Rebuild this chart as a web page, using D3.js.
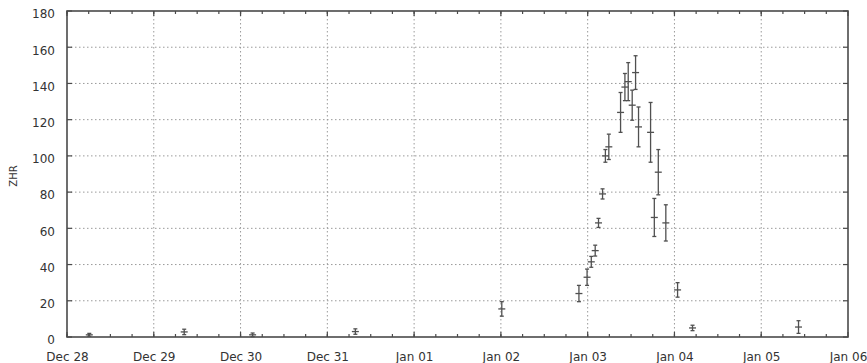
<!DOCTYPE html>
<html>
<head>
<meta charset="utf-8">
<script src="https://cdn.jsdelivr.net/npm/d3@7"></script>
<style>
  body { margin: 0; background: #fff; }
  svg { display: block; font-family: "DejaVu Sans", Verdana, sans-serif; }
</style>
</head>
<body>
<svg id="chart" width="867" height="363"></svg>
<script>
// ---- data ----
const times = [
  "2008-12-28T06:10", "2008-12-29T08:25", "2008-12-30T03:20", "2008-12-31T07:45",
  "2009-01-02T00:15", "2009-01-02T21:35", "2009-01-02T23:50", "2009-01-03T01:00",
  "2009-01-03T02:05", "2009-01-03T03:00", "2009-01-03T04:07", "2009-01-03T04:54",
  "2009-01-03T05:51", "2009-01-03T09:06", "2009-01-03T10:18", "2009-01-03T11:13",
  "2009-01-03T12:19", "2009-01-03T13:15", "2009-01-03T14:04", "2009-01-03T17:24",
  "2009-01-03T18:26", "2009-01-03T19:32", "2009-01-03T21:37", "2009-01-04T00:52",
  "2009-01-04T05:00", "2009-01-05T10:19"
];
const zhr = [
  1.2, 2.8, 1.2, 3.0,
  15.5, 24, 33, 41.5,
  47.7, 63, 79, 100,
  105, 124, 138, 141,
  128, 146, 116, 113,
  66, 91, 63, 26,
  5, 5.5
];
const zhrErr = [
  0.8, 1.5, 1.0, 1.5,
  4, 4.5, 4.5, 3,
  3, 2.5, 2.8, 3.5,
  7, 11, 7.5, 10.5,
  8.3, 9.3, 11, 16.5,
  10.5, 12.5, 10, 4,
  1.5, 3.5
];
const yTicks = [0, 20, 40, 60, 80, 100, 120, 140, 160, 180];
const xStart = "2008-12-28T00:00", xEnd = "2009-01-06T00:00";
const yLabel = "ZHR";

// ---- layout ----
const L = 67, R = 848, T = 11, B = 337;
const parse = d3.utcParse("%Y-%m-%dT%H:%M");
const svg = d3.select("#chart");

const x = d3.scaleUtc().domain([parse(xStart), parse(xEnd)]).range([L, R]);
const y = d3.scaleLinear().domain([0, 180]).range([B, T]);

const frameColor = "#4a4a4a";
const gridColor = "#9a9a9a";

const days = d3.utcDay.range(parse(xStart), d3.utcDay.offset(parse(xEnd), 1));
const quarters = d3.utcHour.every(6).range(parse(xStart), parse(xEnd));

// grid
const grid = svg.append("g");
grid.selectAll("line.vg").data(days.slice(1, -1)).join("line")
  .attr("x1", d => x(d)).attr("x2", d => x(d)).attr("y1", T).attr("y2", B)
  .attr("stroke", gridColor).attr("stroke-width", 1).attr("stroke-dasharray", "1.5,2.5");
grid.selectAll("line.hg").data(yTicks.slice(1, -1)).join("line")
  .attr("x1", L).attr("x2", R).attr("y1", d => y(d)).attr("y2", d => y(d))
  .attr("stroke", gridColor).attr("stroke-width", 1).attr("stroke-dasharray", "1.5,2.5");

// minor ticks (6h) on bottom and top
const ticks = svg.append("g").attr("stroke", frameColor).attr("stroke-width", 1.2);
ticks.selectAll("line.mb").data(quarters).join("line")
  .attr("x1", d => x(d)).attr("x2", d => x(d)).attr("y1", B).attr("y2", B - 3);
ticks.selectAll("line.mt").data(quarters).join("line")
  .attr("x1", d => x(d)).attr("x2", d => x(d)).attr("y1", T).attr("y2", T + 3);
// major x ticks
ticks.selectAll("line.Mb").data(days).join("line")
  .attr("x1", d => x(d)).attr("x2", d => x(d)).attr("y1", B).attr("y2", B - 5);
ticks.selectAll("line.Mt").data(days).join("line")
  .attr("x1", d => x(d)).attr("x2", d => x(d)).attr("y1", T).attr("y2", T + 5);
// y ticks left and right
ticks.selectAll("line.yl").data(yTicks).join("line")
  .attr("x1", L).attr("x2", L + 5).attr("y1", d => y(d)).attr("y2", d => y(d));
ticks.selectAll("line.yr").data(yTicks).join("line")
  .attr("x1", R).attr("x2", R - 5).attr("y1", d => y(d)).attr("y2", d => y(d));

// frame
svg.append("rect").attr("x", L).attr("y", T).attr("width", R - L).attr("height", B - T)
  .attr("fill", "none").attr("stroke", frameColor).attr("stroke-width", 1.6);

// axes labels via d3 axes (lines hidden, labels used)
const fmt = d3.utcFormat("%b %d");
const xAxis = svg.append("g").attr("transform", `translate(0,${B})`)
  .call(d3.axisBottom(x).tickValues(days).tickFormat(fmt).tickSize(0).tickPadding(0));
xAxis.select(".domain").remove();
xAxis.selectAll("text").attr("y", 24).attr("dy", null)
  .attr("font-size", 12).attr("fill", "#333").attr("font-family", "DejaVu Sans, sans-serif");

const yAxis = svg.append("g").attr("transform", `translate(${L},0)`)
  .call(d3.axisLeft(y).tickValues(yTicks).tickSize(0).tickPadding(12));
yAxis.select(".domain").remove();
yAxis.selectAll("text").attr("dy", "0.32em").attr("transform", "translate(0,3)")
  .attr("font-size", 12).attr("fill", "#333").attr("font-family", "DejaVu Sans, sans-serif");

svg.append("text")
  .attr("transform", `translate(17,${(T + B) / 2 + 2}) rotate(-90)`)
  .attr("text-anchor", "middle").attr("font-size", 10).attr("fill", "#333")
  .text(yLabel);

// error bars
const pts = times.map((t, i) => ({ t: parse(t), v: zhr[i], e: zhrErr[i] }));
const barColor = "#505050";
const g = svg.append("g").attr("stroke", barColor).attr("stroke-width", 1.3).attr("fill", "none");
const pg = g.selectAll("g").data(pts).join("g");
pg.append("line")
  .attr("x1", d => x(d.t)).attr("x2", d => x(d.t))
  .attr("y1", d => y(d.v - d.e)).attr("y2", d => y(d.v + d.e));
pg.append("line")
  .attr("x1", d => x(d.t) - 2).attr("x2", d => x(d.t) + 2)
  .attr("y1", d => y(d.v - d.e)).attr("y2", d => y(d.v - d.e));
pg.append("line")
  .attr("x1", d => x(d.t) - 2).attr("x2", d => x(d.t) + 2)
  .attr("y1", d => y(d.v + d.e)).attr("y2", d => y(d.v + d.e));
pg.append("line")
  .attr("x1", d => x(d.t) - 3.5).attr("x2", d => x(d.t) + 3.5)
  .attr("y1", d => y(d.v)).attr("y2", d => y(d.v));
</script>
</body>
</html>
